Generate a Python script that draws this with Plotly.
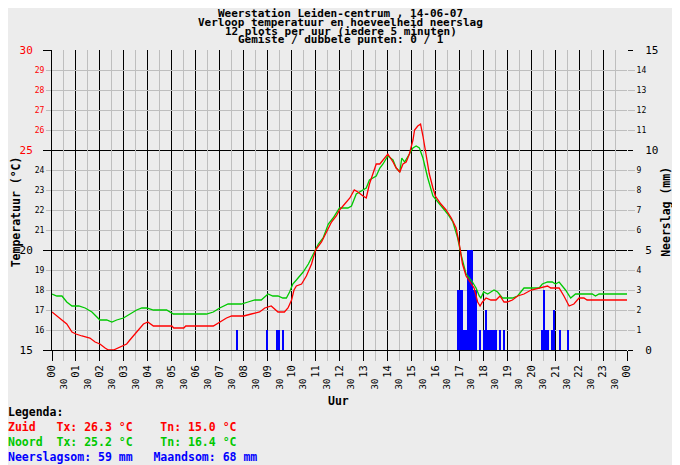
import plotly.graph_objects as go

# ===
# Weerstation Leiden-centrum, 14-06-07
# ===

# Zuid (rood) - tijd en temperatuur
zuid_tijd = ["00:00", "00:12", "00:25", "00:37", "00:50", "01:00", "01:15", "01:35", "01:48", "02:00",
             "02:13", "02:21", "02:34", "02:46", "02:55", "03:07", "03:15", "03:28", "03:36", "03:49",
             "04:00", "04:14", "05:00", "05:05", "05:30", "05:35", "06:44", "07:00", "07:17", "07:30",
             "08:00", "08:19", "08:40", "08:53", "09:09", "09:26", "09:42", "09:51", "10:00", "10:06",
             "10:12", "10:25", "10:37", "10:50", "11:00", "11:15", "11:27", "11:40", "11:52", "12:00",
             "12:13", "12:26", "12:37", "12:46", "12:59", "13:07", "13:15", "13:24", "13:32", "13:41",
             "13:49", "14:01", "14:14", "14:22", "14:31", "14:39", "14:47", "14:55", "15:04", "15:08",
             "15:16", "15:23", "15:29", "15:37", "15:45", "15:54", "16:00", "16:14", "16:27", "16:40",
             "16:52", "17:00", "17:08", "17:17", "17:37", "17:46", "17:52", "17:58", "18:07", "18:19",
             "18:32", "18:42", "18:52", "19:00", "19:13", "19:26", "19:42", "20:00", "20:24", "20:41",
             "20:49", "21:10", "21:22", "21:35", "21:47", "22:00", "22:12", "22:20", "24:00"]
zuid_temp = [16.9, 16.7, 16.5, 16.3, 15.9, 15.8, 15.7, 15.6, 15.4, 15.3,
             15.1, 15.0, 15.0, 15.1, 15.2, 15.3, 15.5, 15.8, 16.0, 16.3,
             16.4, 16.2, 16.2, 16.1, 16.1, 16.2, 16.2, 16.4, 16.6, 16.7,
             16.7, 16.8, 16.9, 17.1, 17.2, 16.9, 16.9, 17.1, 17.5, 18.0,
             18.2, 18.3, 18.7, 19.3, 20.0, 20.4, 20.9, 21.4, 21.7, 22.0,
             22.3, 22.6, 23.0, 22.9, 22.7, 22.6, 23.3, 23.8, 24.3, 24.3,
             24.5, 24.8, 24.4, 24.1, 23.9, 24.3, 24.4, 24.8, 25.5, 26.0,
             26.2, 26.3, 25.7, 24.7, 23.8, 23.1, 22.7, 22.3, 22.0, 21.6,
             21.1, 20.3, 19.3, 18.7, 18.1, 17.4, 17.2, 17.4, 17.6, 17.5,
             17.5, 17.7, 17.4, 17.4, 17.5, 17.7, 17.8, 18.0, 18.1, 18.2,
             18.1, 18.1, 17.7, 17.2, 17.3, 17.6, 17.6, 17.5, 17.5]

# Noord (groen)
noord_tijd = ["00:00", "00:12", "00:25", "00:37", "00:50", "01:07", "01:23", "01:40", "02:00", "02:17",
              "02:30", "02:42", "02:59", "03:15", "03:32", "03:45", "03:57", "04:14", "04:47", "05:04",
              "05:33", "06:27", "06:44", "07:00", "07:21", "07:54", "08:11", "08:28", "08:44", "09:01",
              "09:13", "09:26", "09:38", "09:47", "09:55", "10:03", "10:12", "10:29", "10:42", "10:54",
              "11:07", "11:19", "11:32", "11:44", "12:00", "12:21", "12:30", "12:42", "12:59", "13:07",
              "13:15", "13:32", "13:41", "13:49", "14:01", "14:14", "14:22", "14:31", "14:36", "14:43",
              "14:55", "15:04", "15:12", "15:20", "15:29", "15:41", "15:54", "16:06", "16:19", "16:31",
              "16:44", "16:56", "17:04", "17:17", "17:33", "17:42", "17:50", "17:54", "18:01", "18:11",
              "18:19", "18:27", "18:36", "18:48", "19:00", "19:13", "19:26", "19:42", "19:59", "20:20",
              "20:28", "20:41", "20:53", "21:01", "21:10", "21:26", "21:39", "21:51", "22:12", "22:33",
              "22:41", "22:50", "23:02", "24:00"]
noord_temp = [17.8, 17.7, 17.7, 17.4, 17.2, 17.2, 17.1, 16.9, 16.5, 16.5,
              16.4, 16.5, 16.6, 16.8, 17.0, 17.1, 17.1, 17.0, 17.0, 16.8,
              16.8, 16.8, 16.9, 17.1, 17.3, 17.3, 17.4, 17.5, 17.5, 17.8,
              17.7, 17.7, 17.6, 17.6, 17.9, 18.3, 18.5, 18.9, 19.3, 19.8,
              20.3, 20.6, 21.3, 21.6, 22.1, 22.1, 22.2, 22.8, 23.0, 23.1,
              23.5, 23.7, 24.1, 24.3, 24.7, 24.5, 24.1, 23.9, 24.6, 24.4,
              24.8, 25.1, 25.2, 25.1, 24.6, 23.6, 22.7, 22.4, 22.1, 21.8,
              21.4, 20.6, 19.8, 18.8, 18.4, 18.1, 17.7, 17.6, 17.9, 17.8,
              17.9, 18.0, 17.9, 17.6, 17.6, 17.6, 17.7, 18.1, 18.1, 18.1,
              18.3, 18.4, 18.4, 18.3, 18.4, 18.0, 17.6, 17.8, 17.8, 17.8,
              17.7, 17.8, 17.8, 17.8]

# neerslag per 5 minuten (begin van het interval)
regen_tijd = ["07:40", "08:55", "09:20", "09:25", "09:35",
              "16:55", "17:00", "17:05", "17:10", "17:15", "17:20", "17:25", "17:30", "17:35", "17:40",
              "17:50", "18:00", "18:05", "18:10", "18:15", "18:20", "18:25", "18:30", "18:40", "18:50",
              "20:25", "20:30", "20:35", "20:40", "20:50", "20:55", "21:10", "21:30"]
regen_mm = [1, 1, 1, 1, 1,
            3, 3, 3, 1, 1, 5, 5, 5, 3, 3,
            1, 1, 2, 1, 1, 1, 1, 1, 1, 1,
            1, 3, 1, 1, 1, 2, 1, 1]
maandsom = 68

uur_labels = ["%02d" % (h % 24) for h in range(25)]


def uur(t):
    h, m = t.split(':')
    return int(h) + int(m) / 60


FONT = "DejaVu Sans Mono"
BG = '#ececec'
GRIJS = '#bebebe'

fig = go.Figure()

# regen op de hoofd-as (rechts), zodat de lijnen erboven komen
fig.add_trace(go.Bar(
    x=[uur(t) for t in regen_tijd],
    y=regen_mm,
    width=5 / 60,
    offset=0,
    marker=dict(color='#0000ff', line=dict(width=0)),
    xaxis='x', yaxis='y',
    hoverinfo='skip'
))

# lege sporen zodat de extra assen (halve uren, kleine ticks) getekend worden
for xa, ya in [('x2', 'y'), ('x', 'y2'), ('x', 'y4')]:
    fig.add_trace(go.Scatter(x=[None], y=[None], xaxis=xa, yaxis=ya,
                             mode='markers', hoverinfo='skip'))

fig.add_trace(go.Scatter(
    x=[uur(t) for t in noord_tijd], y=noord_temp,
    mode='lines', line=dict(color='#00c800', width=1.3),
    xaxis='x', yaxis='y3', hoverinfo='skip'
))
fig.add_trace(go.Scatter(
    x=[uur(t) for t in zuid_tijd], y=zuid_temp,
    mode='lines', line=dict(color='#ff0000', width=1.3),
    xaxis='x', yaxis='y3', hoverinfo='skip'
))


def kleur(v):
    return f'<span style="color:#ff0000">{v}</span>' if v >= 25 else str(v)


temp_major = [15, 20, 25, 30]
temp_minor = [v for v in range(16, 30) if v not in temp_major]
regen_major = [0, 5, 10, 15]
regen_minor = [v for v in range(1, 15) if v not in regen_major]

# pagina heeft 8px marge, daarom figuur iets kleiner
fig.update_layout(
    width=672, height=457,
    margin=dict(l=42, r=53, t=42, b=115),
    paper_bgcolor=BG, plot_bgcolor=BG,
    showlegend=False,
    bargap=0,
    font=dict(family=FONT, color='black'),
    xaxis=dict(
        range=[0, 24], tickvals=list(range(25)), ticktext=uur_labels,
        tickangle=-90, tickfont=dict(size=10.5),
        ticks='outside', ticklen=10, tickcolor='black',
        showgrid=True, gridcolor='black', gridwidth=1,
        showline=True, linecolor='black', zeroline=False,
    ),
    xaxis2=dict(
        overlaying='x', matches='x', anchor='y', side='bottom',
        range=[0, 24], tickvals=[h + 0.5 for h in range(24)], ticktext=['30'] * 24,
        tickangle=-90, tickfont=dict(size=9),
        ticks='outside', ticklen=10, tickcolor=GRIJS,
        ticklabelstandoff=14,
        showgrid=True, gridcolor=GRIJS, gridwidth=1,
        showline=False, zeroline=False,
    ),
    yaxis=dict(
        side='right', range=[0, 15], tickvals=regen_major,
        tickfont=dict(size=11), ticks='outside', ticklen=5, tickcolor='black',
        ticklabelstandoff=10,
        showgrid=False, zeroline=False, showline=False,
    ),
    yaxis2=dict(
        overlaying='y', side='right', range=[0, 15], tickvals=regen_minor,
        tickfont=dict(size=8), ticks='outside', ticklen=7, tickcolor=GRIJS,
        showgrid=False, zeroline=False, showline=False,
    ),
    yaxis3=dict(
        overlaying='y', side='left', range=[15, 30], tickvals=temp_major,
        ticktext=[kleur(v) for v in temp_major],
        tickfont=dict(size=11), ticks='outside', ticklen=8, tickcolor='black',
        ticklabelstandoff=8,
        showgrid=True, gridcolor='black', gridwidth=1,
        showline=True, linecolor='black', zeroline=False,
    ),
    yaxis4=dict(
        overlaying='y', side='left', range=[15, 30], tickvals=temp_minor,
        ticktext=[kleur(v) for v in temp_minor],
        tickfont=dict(size=8), ticks='outside', ticklen=5, tickcolor=GRIJS,
        showgrid=True, gridcolor=GRIJS, gridwidth=1,
        showline=False, zeroline=False,
    ),
)

# titel, vier regels
titel = ["Weerstation Leiden-centrum , 14-06-07",
         "Verloop temperatuur en hoeveelheid neerslag",
         "12 plots per uur (iedere 5 minuten)",
         "Gemiste / dubbele punten: 0 / 1"]
for i, regel in enumerate(titel):
    fig.add_annotation(text=f'<b>{regel}</b>', xref='paper', yref='paper',
                       x=0.5026, y=(350 - (13 + 9 * i)) / 300,
                       xanchor='center', yanchor='middle', showarrow=False,
                       font=dict(size=11, family=FONT))

# as-titels
fig.add_annotation(text='<b>Uur</b>', xref='paper', yref='paper', x=0.499, y=-0.17,
                   xanchor='center', yanchor='middle',
                   showarrow=False, font=dict(size=11.5, family=FONT))
fig.add_annotation(text='<b>Temperatuur (°C)</b>', xref='paper', yref='paper',
                   x=-0.062, y=0.46, textangle=-90, xanchor='center', yanchor='middle',
                   showarrow=False, font=dict(size=11.5, family=FONT))
fig.add_annotation(text='<b>Neerslag (mm)</b>', xref='paper', yref='paper',
                   x=1.0676, y=0.46, textangle=-90, xanchor='center', yanchor='middle',
                   showarrow=False, font=dict(size=11.5, family=FONT))

# legenda onderaan
legenda = [
    ('Legenda:', 'black'),
    ('Zuid   Tx: %.1f °C    Tn: %.1f °C' % (max(zuid_temp), min(zuid_temp)), '#ff0000'),
    ('Noord  Tx: %.1f °C    Tn: %.1f °C' % (max(noord_temp), min(noord_temp)), '#00c800'),
    ('Neerslagsom: %d mm   Maandsom: %d mm' % (sum(regen_mm), maandsom), '#0000ff'),
]
for i, (regel, kl) in enumerate(legenda):
    fig.add_annotation(text=f'<b>{regel}</b>', xref='paper', yref='paper',
                       x=-46 / 577, y=(350 - (412 + 15 * i)) / 300,
                       xanchor='left', yanchor='middle', showarrow=False,
                       font=dict(size=11.5, family=FONT, color=kl))

fig.write_html("out.html")
